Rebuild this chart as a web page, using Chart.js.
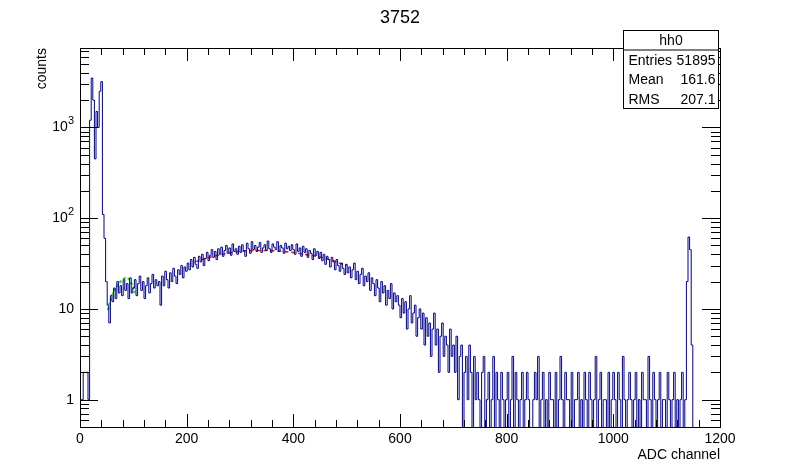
<!DOCTYPE html>
<html><head><meta charset="utf-8">
<script src="https://cdn.jsdelivr.net/npm/chart.js@4/dist/chart.umd.min.js"></script>
<style>html,body{margin:0;padding:0;background:#fff}#w{width:800px;height:475px}</style>
</head><body><div id="w"><canvas id="c"></canvas></div>
<script>
const title = "3752";
const binWidth = 3;
const counts = [
1,1,1,2,2,2,1,1200,3500,2000,450,1500,1000,2500,3200,110,60,20,11,7,14,
12,17,13,20,15,18,14,21,16,19,13,22,15,
17,21,14,19,23,16,20,13,18,22,15,19,24,17,21,18,
20,11,23,18,26,21,17,25,20,28,23,19,27,24,30,22,29,
26,32,27,35,29,37,31,28,38,33,40,30,36,42,34,39,45,
37,43,35,46,40,48,38,44,50,41,47,39,52,43,46,40,
49,42,51,44,38,53,46,41,55,45,50,43,48,54,42,47,51,
44,56,46,42,52,48,45,55,43,50,47,41,53,46,49,44,51,
45,40,52,43,47,38,49,42,46,37,44,41,35,46,39,43,
36,42,34,40,31,38,35,29,37,33,27,35,30,26,32,28,24,
31,25,29,22,27,32,21,26,19,24,28,18,23,20,25,16,22,
19,14,21,17,12,20,15,18,11,16,13,19,10,15,12,14,
11,8,13,9,12,6,10,14,7,9,11,5,8,10,6,9,4,
8,5,7,3,6,9,4,6,2,5,7,3,5,4,2,6,3,
4,2,5,1,3,4,0,2,3,1,4,2,0,3,1,2,
1,0,2,3,0,1,2,0,1,3,0,2,1,0,2,1,0,
1,2,0,1,3,0,2,1,0,1,2,0,1,
2,1,0,0,1,2,1,3,0,1,2,0,1,
0,2,1,1,0,2,0,1,3,1,0,2,1,
1,0,2,0,1,1,2,0,1,0,2,1,0,
2,1,0,1,3,0,1,2,0,1,1,0,2,
0,1,2,1,0,2,1,0,3,1,0,1,2,
1,0,1,2,0,1,0,2,1,1,0,3,1,
0,2,1,0,1,2,0,1,1,0,2,1,0,
1,2,0,1,0,1,2,0,1,
20,62,45,4];
const greenFitX = [52,60,70,80,88,95,103];
const greenFitY = [9.7,14,18,21,22,20,15];
const redFitX = [215,250,300,340,380,420,460,500];
const redFitY = [33,38,43,44,43,40,36,30];
const xTicks = [0,200,400,600,800,1000,1200];
const yTicks = [1,10,100,1000];
const stats = [["Entries","51895"],["Mean","161.6"],["RMS","207.1"]];
const statsTitle = "hh0";
const xLabel = "ADC channel", yLabel = "counts";

const FLOOR = 0.3;
const hist = counts.map((v,i)=>({x:i*binWidth, y: v>0?v:FLOOR}));
hist.push({x:counts.length*binWidth, y:FLOOR});

const F = "'Liberation Sans', Arial, sans-serif";
const deco = {
  id:'deco',
  afterDraw(ch){
    const c = ch.ctx, a = ch.chartArea, xs = ch.scales.x, ys = ch.scales.y;
    c.save();
    c.strokeStyle='#000'; c.lineWidth=1; c.fillStyle='#000';
    c.strokeRect(a.left+0.5,a.top+0.5,a.right-a.left,a.bottom-a.top);
    c.beginPath();
    for(let v=0; v<=1200; v+=40){
      const px=Math.round(xs.getPixelForValue(v))+0.5;
      const L = v%200===0?13:7;
      c.moveTo(px,a.bottom); c.lineTo(px,a.bottom-L);
      c.moveTo(px,a.top); c.lineTo(px,a.top+L);
    }
    for(let d=-1; d<4; d++){
      for(let m=1;m<10;m++){
        const v=m*Math.pow(10,d);
        if(v<0.5||v>7500) continue;
        const py=Math.round(ys.getPixelForValue(v))+0.5;
        const L = m===1?18:9;
        c.moveTo(a.left,py); c.lineTo(a.left+L,py);
        c.moveTo(a.right,py); c.lineTo(a.right-L,py);
      }
    }
    c.stroke();
    c.font="14px "+F; c.textAlign='center'; c.textBaseline='top';
    xTicks.forEach(v=>c.fillText(String(v), xs.getPixelForValue(v), a.bottom+5));
    c.textBaseline='middle';
    yTicks.forEach((v,i)=>{
      const py=ys.getPixelForValue(v);
      if(i<2){ c.textAlign='right'; c.font="14px "+F; c.fillText(String(v), a.left-6, py); }
      else { c.textAlign='right'; c.font="11px "+F; c.fillText(String(i), a.left-6, py-6);
        const w=c.measureText(String(i)).width; c.font="14px "+F; c.fillText("10", a.left-6-w, py); }
    });
    c.font="14px "+F; c.textAlign='right'; c.textBaseline='top';
    c.fillText(xLabel, a.right, a.bottom+21);
    c.save(); c.translate(42,a.top); c.rotate(-Math.PI/2); c.textBaseline='middle'; c.fillText(yLabel,0,0); c.restore();
    c.font="18px "+F; c.textAlign='center'; c.textBaseline='middle'; c.fillText(title, 400, 18);
    const bx=623.5, by=30.5, bw=95, rh=19.5;
    c.fillStyle='#fff'; c.fillRect(bx,by,bw,rh*4); c.strokeRect(bx,by,bw,rh*4);
    c.beginPath(); c.moveTo(bx,by+rh); c.lineTo(bx+bw,by+rh); c.stroke();
    c.fillStyle='#000'; c.font="14px "+F; c.textAlign='center'; c.fillText(statsTitle,bx+bw/2,by+rh/2+1);
    stats.forEach((s,i)=>{ const yy=by+rh*(i+1)+rh/2+1; c.textAlign='left'; c.fillText(s[0],bx+5,yy); c.textAlign='right'; c.fillText(s[1],bx+bw-3,yy);});
    c.restore();
  }
};
new Chart(document.getElementById('c'),{
  type:'line',
  data:{datasets:[
    {data:hist,borderColor:'#00008b',borderWidth:1,stepped:'after',pointRadius:0,fill:false},
    {data:greenFitX.map((x,i)=>({x,y:greenFitY[i]})),borderColor:'#22dd22',borderWidth:2,borderDash:[3,2],tension:0.4,pointRadius:0},
    {data:redFitX.map((x,i)=>({x,y:redFitY[i]})),borderColor:'#ff0000',borderWidth:1.5,borderDash:[4,3],tension:0.4,pointRadius:0}
  ]},
  options:{responsive:true,maintainAspectRatio:false,animation:false,
    layout:{padding:{left:80,right:80,top:48,bottom:48}},
    plugins:{legend:{display:false},tooltip:{enabled:false}},
    scales:{
      x:{type:'linear',min:0,max:1200,display:false},
      y:{type:'logarithmic',min:0.5,max:7500,display:false}
    }},
  plugins:[deco]
});
</script></body></html>
